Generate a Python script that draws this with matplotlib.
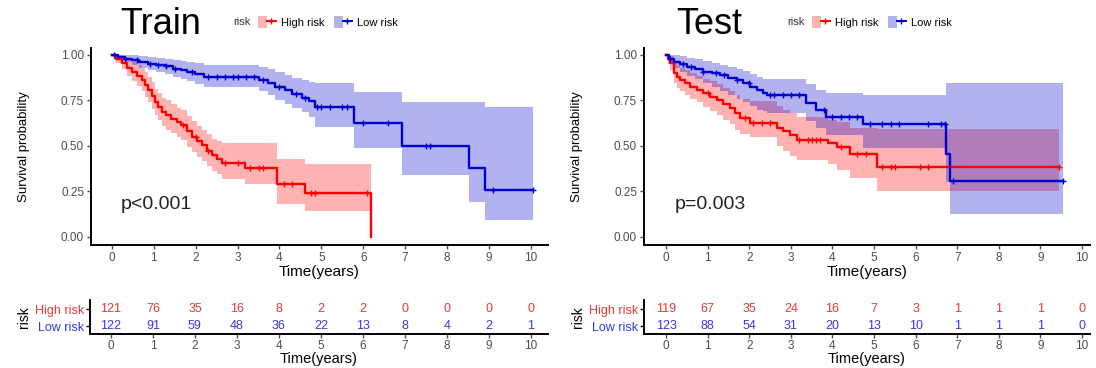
import numpy as np
import matplotlib
matplotlib.use('Agg')
import matplotlib.pyplot as plt
from matplotlib.patches import Patch
from matplotlib.lines import Line2D
from matplotlib.legend_handler import HandlerTuple

plt.rcParams['font.family'] = ['Liberation Sans', 'DejaVu Sans']

# ---- Train: high risk (step times, survival, CI lower/upper) ----
tr_hi_t = [0, 0.1, 0.23, 0.35, 0.47, 0.6, 0.71, 0.8, 0.87, 0.95, 1.03, 1.1, 1.19, 1.3, 1.42,
           1.55, 1.66, 1.78, 1.9, 2.02, 2.14, 2.26, 2.38, 2.5, 2.62, 3.17, 3.93, 4.62, 6.18]
tr_hi_s = [1.0, 0.98, 0.954, 0.93, 0.908, 0.885, 0.862, 0.835, 0.807, 0.775, 0.742, 0.715, 0.687, 0.67, 0.65,
           0.63, 0.613, 0.58, 0.549, 0.525, 0.503, 0.475, 0.448, 0.43, 0.405, 0.38, 0.29, 0.24, 0.0]
tr_hi_up = [1.0, 1.0, 0.99, 0.975, 0.96, 0.945, 0.93, 0.905, 0.88, 0.85, 0.815, 0.79, 0.765, 0.75, 0.73,
            0.71, 0.695, 0.665, 0.635, 0.61, 0.59, 0.565, 0.54, 0.525, 0.515, 0.515, 0.43, 0.40, 0.40]
tr_hi_lo = [1.0, 0.955, 0.92, 0.885, 0.855, 0.83, 0.8, 0.77, 0.74, 0.705, 0.67, 0.64, 0.61, 0.59, 0.57,
            0.55, 0.53, 0.495, 0.465, 0.44, 0.415, 0.39, 0.36, 0.345, 0.32, 0.29, 0.18, 0.145, 0.145]
tr_hi_cens = [1.7, 2.0, 2.3, 2.7, 3.0, 3.3, 3.5, 3.6, 4.1, 4.3, 4.75, 4.85, 6.1]

# ---- Train: low risk ----
tr_lo_t = [0, 0.15, 0.3, 0.47, 0.65, 0.85, 1.05, 1.26, 1.45, 1.65, 1.8, 1.98, 2.2, 3.5, 3.72, 3.9,
           4.13, 4.3, 4.53, 4.7, 4.85, 5.78, 6.92, 8.52, 8.9, 10.05]
tr_lo_s = [1.0, 0.99, 0.98, 0.972, 0.962, 0.952, 0.945, 0.939, 0.925, 0.915, 0.905, 0.895, 0.88, 0.862, 0.844, 0.825,
           0.807, 0.787, 0.766, 0.745, 0.714, 0.626, 0.501, 0.377, 0.258, 0.258]
tr_lo_up = [1.0, 1.0, 1.0, 1.0, 0.995, 0.99, 0.985, 0.98, 0.97, 0.965, 0.96, 0.955, 0.945, 0.935, 0.92, 0.905,
            0.89, 0.875, 0.86, 0.85, 0.845, 0.795, 0.74, 0.74, 0.715, 0.715]
tr_lo_lo = [1.0, 0.975, 0.96, 0.945, 0.93, 0.915, 0.905, 0.895, 0.88, 0.865, 0.855, 0.84, 0.825, 0.8, 0.78, 0.755,
            0.73, 0.71, 0.685, 0.66, 0.605, 0.487, 0.34, 0.194, 0.095, 0.095]
tr_lo_cens = [0.05, 0.3, 0.6, 0.9, 1.1, 1.3, 1.5, 1.9, 2.3, 2.5, 2.7, 2.9, 3.0, 3.2, 3.4, 3.6, 4.0, 4.4,
              4.6, 4.9, 5.0, 5.2, 5.5, 5.6, 6.0, 6.6, 7.5, 7.6, 9.1, 10.05]

# ---- Test: high risk ----
te_hi_t = [0, 0.05, 0.1, 0.18, 0.26, 0.34, 0.46, 0.58, 0.74, 0.9, 1.06, 1.22, 1.38, 1.54, 1.66, 1.78,
           2.02, 2.66, 2.82, 2.98, 3.14, 3.9, 4.1, 4.42, 5.08, 9.45]
te_hi_s = [1.0, 0.975, 0.954, 0.9, 0.88, 0.863, 0.845, 0.826, 0.808, 0.79, 0.77, 0.753, 0.73, 0.707, 0.68, 0.652,
           0.625, 0.6, 0.58, 0.56, 0.533, 0.515, 0.496, 0.455, 0.386, 0.386]
te_hi_up = [1.0, 1.0, 0.995, 0.96, 0.945, 0.93, 0.915, 0.9, 0.885, 0.87, 0.855, 0.84, 0.82, 0.8, 0.78, 0.76,
            0.745, 0.72, 0.7, 0.68, 0.66, 0.645, 0.63, 0.6, 0.595, 0.595]
te_hi_lo = [1.0, 0.95, 0.915, 0.845, 0.82, 0.8, 0.78, 0.76, 0.74, 0.715, 0.69, 0.67, 0.645, 0.62, 0.59, 0.565,
            0.55, 0.5, 0.47, 0.445, 0.425, 0.4, 0.37, 0.325, 0.25, 0.25]
te_hi_cens = [1.0, 1.9, 2.1, 2.3, 2.5, 3.2, 3.4, 3.5, 3.6, 3.7, 4.2, 4.6, 4.8, 5.2, 5.4, 5.5, 6.1, 6.3, 9.45]

# ---- Test: low risk ----
te_lo_t = [0, 0.08, 0.18, 0.34, 0.5, 0.7, 0.9, 1.1, 1.3, 1.5, 1.7, 1.86, 2.02, 2.18, 2.34, 2.42,
           3.37, 3.61, 3.85, 4.74, 6.73, 6.82, 9.55]
te_lo_s = [1.0, 0.98, 0.963, 0.95, 0.936, 0.922, 0.908, 0.9, 0.89, 0.875, 0.863, 0.845, 0.826, 0.808, 0.79, 0.78,
           0.735, 0.698, 0.661, 0.619, 0.456, 0.31, 0.31]
te_lo_up = [1.0, 1.0, 1.0, 0.995, 0.985, 0.975, 0.965, 0.955, 0.945, 0.935, 0.925, 0.91, 0.895, 0.88, 0.87, 0.865,
            0.84, 0.81, 0.79, 0.78, 0.845, 0.845, 0.845]
te_lo_lo = [1.0, 0.96, 0.93, 0.905, 0.885, 0.865, 0.845, 0.825, 0.8, 0.78, 0.76, 0.74, 0.72, 0.7, 0.69, 0.68,
            0.635, 0.6, 0.56, 0.49, 0.3, 0.126, 0.126]
te_lo_cens = [0.1, 0.4, 0.6, 0.9, 1.2, 1.4, 1.7, 2.0, 2.5, 2.6, 2.8, 3.0, 3.2, 3.8, 4.0, 4.2, 4.4, 4.6,
              4.9, 5.2, 5.4, 5.6, 6.3, 6.6, 6.7, 6.9, 9.55]

# ---- number at risk tables ----
risk_times = list(range(11))
tr_risk_high = [121, 76, 35, 16, 8, 2, 2, 0, 0, 0, 0]
tr_risk_low = [122, 91, 59, 48, 36, 22, 13, 8, 4, 2, 1]
te_risk_high = [119, 67, 35, 24, 16, 7, 3, 1, 1, 1, 0]
te_risk_low = [123, 88, 54, 31, 20, 13, 10, 1, 1, 1, 0]

groups = ['High risk', 'Low risk']
RED, BLUE = '#FF0000', '#0000D0'
RED_TXT, BLUE_TXT = '#E83838', '#3838E0'
GREY = '#4D4D4D'

W, H = 1096, 368
fig = plt.figure(figsize=(W / 100, H / 100), dpi=100)


def box(l, t, r, b):
    return [l / W, 1 - b / H, (r - l) / W, (b - t) / H]


def step_at(t, s, x):
    i = np.searchsorted(t, x, side='right') - 1
    return np.asarray(s)[i]


def panel(main_px, tab_px, xlim, title, title_x, leg_x, curves, risk, pval):
    ax = fig.add_axes(box(*main_px))
    for t, s, lo, up, cens, col in curves:
        ax.fill_between(t, lo, up, step='post', color=col, alpha=0.3, lw=0)
        ax.step(t, s, where='post', color=col, lw=1.7)
        ax.plot(cens, step_at(t, s, cens), ls='none', marker='+', ms=4, mew=1.0, color=col)
    ax.set_xlim(*xlim)
    ax.set_ylim(-0.044, 1.038)
    ax.set_xticks(risk_times)
    ax.set_yticks([0, 0.25, 0.5, 0.75, 1.0])
    ax.set_yticklabels(['0.00', '0.25', '0.50', '0.75', '1.00'])
    ax.set_xlabel('Time(years)', fontsize=11, labelpad=1)
    ax.set_ylabel('Survival probability', fontsize=9.5, labelpad=22)
    ax.text(0.2, 0.18, pval, fontsize=14, va='center', color='#222222')
    for sp in ['top', 'right']:
        ax.spines[sp].set_visible(False)
    for sp in ['left', 'bottom']:
        ax.spines[sp].set_linewidth(1.4)
    ax.tick_params(labelsize=8.5, colors=GREY, length=3, width=1, pad=2)

    # title and legend
    fig.text(title_x / W, 1 - 24 / H, title, fontsize=26, va='center', ha='left')
    fig.text(leg_x / W, 1 - 22 / H, 'risk', fontsize=8, va='center', ha='left', color='#333333')
    handles = [(Patch(facecolor=c, alpha=0.3, lw=0),
                Line2D([], [], color=c, lw=1.4, marker='+', ms=4)) for c in (RED, BLUE)]
    fig.legend(handles, groups, handler_map={tuple: HandlerTuple(ndivide=None)},
               loc='center left', bbox_to_anchor=((leg_x + 25) / W, 1 - 22 / H), ncol=2,
               fontsize=8, frameon=False, handlelength=1.6, handleheight=1.2,
               handletextpad=0.5, columnspacing=0.8, borderpad=0, borderaxespad=0)

    # number at risk table
    tb = fig.add_axes(box(*tab_px))
    for k, (vals, col) in enumerate(zip(risk, (RED_TXT, BLUE_TXT))):
        for x, v in zip(risk_times, vals):
            tb.text(x, 2 - k, str(v), ha='center', va='center', fontsize=9, color=col)
    tb.set_xlim(*xlim)
    tb.set_ylim(0.55, 2.55)
    tb.set_xticks(risk_times)
    tb.set_yticks([2, 1])
    tb.set_yticklabels(groups)
    for lab, col in zip(tb.get_yticklabels(), (RED_TXT, BLUE_TXT)):
        lab.set_color(col)
    tb.set_xlabel('Time(years)', fontsize=10.5, labelpad=0)
    tb.set_ylabel('risk', fontsize=10, labelpad=3)
    for sp in ['top', 'right']:
        tb.spines[sp].set_visible(False)
    for sp in ['left', 'bottom']:
        tb.spines[sp].set_linewidth(1.4)
    tb.tick_params(axis='x', labelsize=8.5, colors=GREY, length=3, width=1, pad=1)
    tb.tick_params(axis='y', labelsize=9, length=3, width=1, pad=1)


panel((91, 48, 548, 245), (90, 300, 548, 334), (-0.5, 10.41), 'Train', 120, 233,
      [(tr_hi_t, tr_hi_s, tr_hi_lo, tr_hi_up, tr_hi_cens, RED),
       (tr_lo_t, tr_lo_s, tr_lo_lo, tr_lo_up, tr_lo_cens, BLUE)],
      (tr_risk_high, tr_risk_low), 'p<0.001')

panel((644, 48, 1090, 245), (644, 300, 1090, 334), (-0.53, 10.19), 'Test', 676, 787,
      [(te_hi_t, te_hi_s, te_hi_lo, te_hi_up, te_hi_cens, RED),
       (te_lo_t, te_lo_s, te_lo_lo, te_lo_up, te_lo_cens, BLUE)],
      (te_risk_high, te_risk_low), 'p=0.003')

fig.savefig('out.png', dpi=100)
